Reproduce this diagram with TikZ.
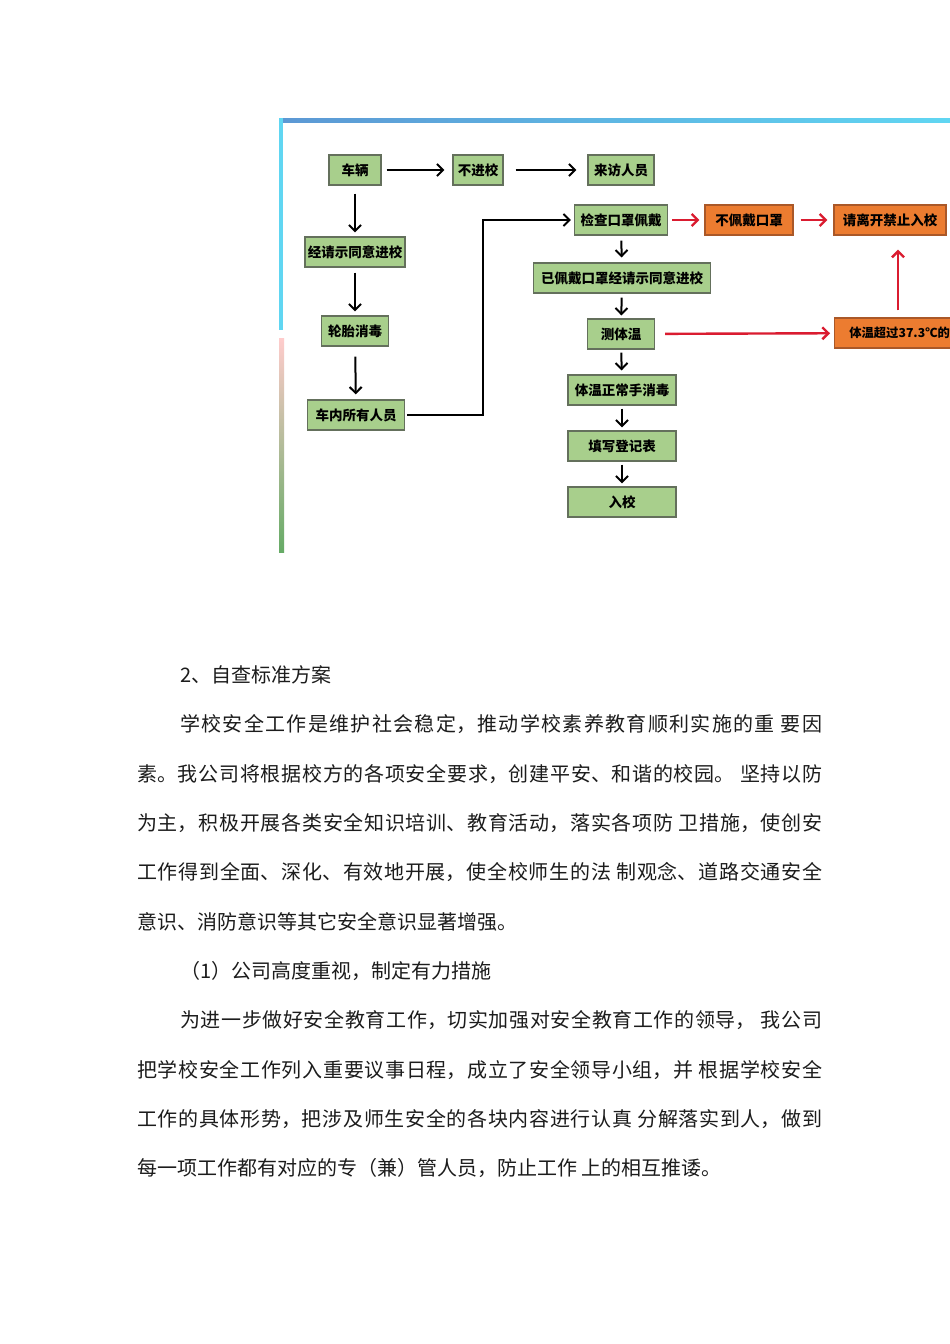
\documentclass[tikz,border=0pt]{standalone}
\usepackage{fontspec}
\setmainfont{Noto Sans CJK SC}
\usetikzlibrary{arrows.meta}
\usepackage{xcolor}

\XeTeXlinebreaklocale "zh"
\XeTeXlinebreakskip=0pt plus 2pt
\tolerance=9999
\hbadness=10000

\definecolor{boxgreen}{RGB}{168,207,140}
\definecolor{boxline}{RGB}{100,112,92}
\definecolor{boxorange}{RGB}{236,124,48}
\definecolor{orangeline}{RGB}{170,88,40}
\definecolor{arrowred}{RGB}{218,28,48}
\definecolor{textgray}{RGB}{28,28,28}
\definecolor{frameblue}{RGB}{92,152,212}
\definecolor{framecyan}{RGB}{96,214,242}

% 两端对齐的一行正文
\newcommand{\fullline}[2]{\parbox[b]{#1}{\parfillskip=0pt\relax\noindent #2\par}}

\begin{document}
\begin{tikzpicture}[x=1pt, y=-1pt,
    box/.style={draw=boxline, fill=boxgreen, line width=1.2pt, minimum height=30pt,
      inner sep=2pt, font=\fontsize{13.5}{13.5}\selectfont\bfseries},
    warnbox/.style={box, draw=orangeline, fill=boxorange},
    arr/.style={-{Straight Barb[length=6pt, width=12pt]}, line width=2pt},
    redarr/.style={arr, draw=arrowred, line width=2.4pt},
    txt/.style={anchor=base west, inner sep=0pt, text=textgray,
      font=\fontsize{20}{24}\selectfont}]
    \useasboundingbox (0,0) rectangle (950,1344);
    \clip (0,0) rectangle (950,1344);
    \fill[white] (0,0) rectangle (950,1344);

    % 图片边框
    \shade[left color=frameblue, right color=framecyan] (280,118) rectangle (950,122);
    \fill[framecyan] (279,118) rectangle (283,330);
    \shade[top color=red!20, bottom color=green!45!black!60] (279,338) rectangle (284,552);

    % 车辆一栏
    \node[box, minimum width=52pt] (car) at (355,170) {车辆};
    \node[box, minimum width=50pt] (noentry) at (478,170) {不进校};
    \node[box, minimum width=66pt] (visitor) at (621,170) {来访人员};
    \node[box, minimum width=100pt] (approve) at (355,252) {经请示同意进校};
    \node[box, minimum width=67pt] (tyre) at (355,331) {轮胎消毒};
    \node[box, minimum width=97pt] (people) at (356,415) {车内所有人员};

    % 人员检查一栏
    \node[box, minimum width=93pt] (mask) at (621,220) {检查口罩佩戴};
    \node[warnbox, minimum width=88pt] (nomask) at (749,220) {不佩戴口罩};
    \node[warnbox, minimum width=112pt] (leave) at (890,220) {请离开禁止入校};
    \node[box, minimum width=177pt] (masked) at (622,278) {已佩戴口罩经请示同意进校};
    \node[box, minimum width=67pt] (temp) at (621,334) {测体温};
    \node[warnbox, anchor=west, inner xsep=3pt, minimum width=130pt, align=left,
      font=\fontsize{12.3}{12.3}\selectfont\bfseries]
      (fever) at (834,333) {体温超过37.3℃的};
    \node[box, minimum width=108pt] (normal) at (622,390) {体温正常手消毒};
    \node[box, minimum width=108pt] (form) at (622,446) {填写登记表};
    \node[box, minimum width=108pt] (enter) at (622,502) {入校};

    % 黑色箭头
    \draw[arr, shorten <=5pt, shorten >=8pt] (car) -- (noentry);
    \draw[arr, shorten <=12pt, shorten >=11pt] (noentry) -- (visitor);
    \draw[arr, shorten <=8pt, shorten >=4pt] (car) -- (approve);
    \draw[arr, shorten <=5pt, shorten >=4pt] (approve) -- (tyre);
    \draw[arr, shorten <=10pt, shorten >=5pt] (tyre) -- (people);
    \draw[arr, shorten >=3pt] ([xshift=2pt]people.east) -- ++(76,0) |- (mask.west);
    \draw[arr, shorten <=5pt, shorten >=5pt] (mask) -- (masked);
    \draw[arr, shorten <=4pt, shorten >=3pt] (masked) -- (temp);
    \draw[arr, shorten <=3pt, shorten >=4pt] (temp) -- (normal);
    \draw[arr, shorten <=3pt, shorten >=3pt] (normal) -- (form);
    \draw[arr, shorten <=3pt, shorten >=3pt] (form) -- (enter);

    % 红色箭头
    \draw[redarr, shorten <=4pt, shorten >=5pt] (mask) -- (nomask);
    \draw[redarr, shorten <=7pt, shorten >=6pt] (nomask) -- (leave);
    \draw[redarr, shorten <=10pt, shorten >=4pt] (temp) -- (fever);
    \draw[redarr, shorten <=7pt, shorten >=14pt]
      ([xshift=8pt]leave.south |- fever.north) -- ([xshift=8pt]leave.south);

    % 正文
    \node[txt] (h2) at (180,682.6) {2、自查标准方案};
    \node[txt] (p1a) at (180,731.9) {\fullline{642pt}{学校安全工作是维护社会稳定，推动学校素养教育顺利实施的重 要因}};
    \node[txt] (p1b) at (137,781.2) {\fullline{685pt}{素。我公司将根据校方的各项安全要求，创建平安、和谐的校园。 坚持以防}};
    \node[txt] (p1c) at (137,830.5) {\fullline{685pt}{为主，积极开展各类安全知识培训、教育活动，落实各项防 卫措施，使创安}};
    \node[txt] (p1d) at (137,879.8) {\fullline{685pt}{工作得到全面、深化、有效地开展，使全校师生的法 制观念、道路交通安全}};
    \node[txt] (p1e) at (137,929.1) {意识、消防意识等其它安全意识显著增强。};
    \node[txt] (h3) at (180,978.4) {（1）公司高度重视，制定有力措施};
    \node[txt] (p2a) at (180,1027.7) {\fullline{642pt}{为进一步做好安全教育工作，切实加强对安全教育工作的领导， 我公司}};
    \node[txt] (p2b) at (137,1077) {\fullline{685pt}{把学校安全工作列入重要议事日程，成立了安全领导小组，并 根据学校安全}};
    \node[txt] (p2c) at (137,1126.3) {\fullline{685pt}{工作的具体形势，把涉及师生安全的各块内容进行认真 分解落实到人，做到}};
    \node[txt] (p2d) at (137,1175.6) {每一项工作都有对应的专（兼）管人员，防止工作 上的相互推诿。};
\end{tikzpicture}
\end{document}
